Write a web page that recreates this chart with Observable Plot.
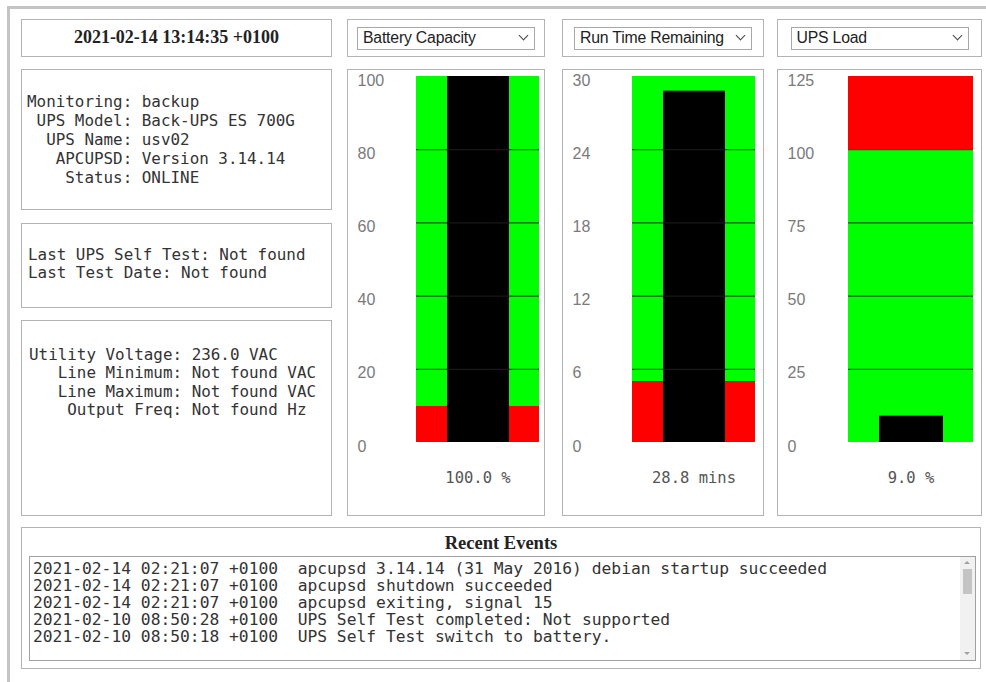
<!DOCTYPE html>
<html>
<head>
<meta charset="utf-8">
<script src="https://cdn.jsdelivr.net/npm/d3@7"></script>
<script src="https://cdn.jsdelivr.net/npm/@observablehq/plot@0.6"></script>
<style>
  html, body { margin: 0; padding: 0; background: #fff; width: 986px; height: 682px; overflow: hidden; }
  .abs { position: absolute; box-sizing: border-box; }
  .frame { left: 7px; top: 6px; width: 1000px; height: 700px; border-left: 3px solid #c4c4c4; border-top: 3px solid #c4c4c4; }
  .box { border: 1px solid #b3b3b3; background: #fff; }
  .date { font-family: "Liberation Serif", serif; font-weight: bold; font-size: 18px; color: #222; text-align: center; line-height: 35px; }
  .mono { font-family: "DejaVu Sans Mono", monospace; font-size: 15.9px; color: #333; white-space: pre; }
  .sel { border: 1px solid #a8a8a8; font-family: "Liberation Sans", Arial, sans-serif; font-size: 15.8px; color: #222; line-height: 20px; padding-left: 5px; letter-spacing: -0.2px; }
  .chev { position: absolute; right: 7px; top: 4px; width: 6px; height: 6px; border-right: 1.6px solid #444; border-bottom: 1.6px solid #444; transform: rotate(45deg); }
  .title { font-family: "Liberation Serif", serif; font-weight: bold; font-size: 18.5px; color: #222; text-align: center; }
</style>
</head>
<body>
<script>
// ---- data ----
const timestamp = "2021-02-14 13:14:35 +0100";
const statusLabels = ["Monitoring", "UPS Model", "UPS Name", "APCUPSD", "Status"];
const statusValues = ["backup", "Back-UPS ES 700G", "usv02", "Version 3.14.14", "ONLINE"];
const testLabels = ["Last UPS Self Test", "Last Test Date"];
const testValues = ["Not found", "Not found"];
const powerLabels = ["Utility Voltage", "Line Minimum", "Line Maximum", "Output Freq"];
const powerValues = ["236.0 VAC", "Not found VAC", "Not found VAC", "Not found Hz"];

const gaugeTitles = ["Battery Capacity", "Run Time Remaining", "UPS Load"];
const gaugeValues = [100.0, 28.8, 9.0];
const gaugeUnits = ["%", "mins", "%"];
const gaugeMax = [100, 30, 125];
const gaugeTicks = [[0, 20, 40, 60, 80, 100], [0, 6, 12, 18, 24, 30], [0, 25, 50, 75, 100, 125]];
const redZones = [[0, 10], [0, 5], [100, 125]];
const greenZones = [[10, 100], [5, 30], [0, 100]];

const eventTimes = ["2021-02-14 02:21:07 +0100", "2021-02-14 02:21:07 +0100", "2021-02-14 02:21:07 +0100", "2021-02-10 08:50:28 +0100", "2021-02-10 08:50:18 +0100"];
const eventMessages = ["apcupsd 3.14.14 (31 May 2016) debian startup succeeded", "apcupsd shutdown succeeded", "apcupsd exiting, signal 15", "UPS Self Test completed: Not supported", "UPS Self Test switch to battery."];

// ---- layout helpers ----
function el(cls, css, html) {
  const d = document.createElement("div");
  d.className = "abs " + cls;
  Object.assign(d.style, css);
  if (html !== undefined) d.textContent = html;
  document.body.appendChild(d);
  return d;
}
function padLeft(s, n) { return " ".repeat(Math.max(0, n - s.length)) + s; }

el("frame", {});

// date box
el("box date", {left: "21px", top: "19px", width: "311px", height: "38px"}, timestamp);

// info boxes
const w1 = Math.max(...statusLabels.map(s => s.length));
el("box", {left: "21px", top: "69px", width: "311px", height: "141px"});
el("mono", {left: "27px", top: "92px", lineHeight: "19px"},
  statusLabels.map((l, i) => padLeft(l, w1) + ": " + statusValues[i]).join("\n"));

el("box", {left: "21px", top: "223px", width: "311px", height: "85px"});
el("mono", {left: "28px", top: "246px", lineHeight: "18px"},
  testLabels.map((l, i) => l + ": " + testValues[i]).join("\n"));

const w3 = Math.max(...powerLabels.map(s => s.length));
el("box", {left: "21px", top: "320px", width: "311px", height: "196px"});
el("mono", {left: "29px", top: "346px", lineHeight: "18.3px"},
  powerLabels.map((l, i) => padLeft(l, w3) + ": " + powerValues[i]).join("\n"));

// gauges
const gaugeLefts = [347, 562, 777];
const gaugeWidths = [198, 202, 205];
gaugeTitles.forEach((title, i) => {
  const L = gaugeLefts[i], W = gaugeWidths[i];
  el("box", {left: L + "px", top: "19px", width: W + "px", height: "38px"});
  const selW = 178;
  const s = el("sel", {left: (L + (W - selW) / 2) + "px", top: "27px", width: selW + "px", height: "23px"}, title);
  const c = document.createElement("div"); c.className = "chev"; s.appendChild(c);

  const panel = el("box", {left: L + "px", top: "69px", width: W + "px", height: "447px"});
  const label = gaugeValues[i].toFixed(1) + " " + gaugeUnits[i];
  const max = gaugeMax[i];
  const marginLeft = 68 + i;
  const chart = Plot.plot({
    width: W - 2,
    height: 445,
    marginTop: 6,
    marginBottom: 73,
    marginLeft,
    marginRight: i === 0 ? 5 : 8,
    style: {fontFamily: "Liberation Sans, Arial, sans-serif", fontSize: "16px", background: "transparent", overflow: "visible"},
    x: {type: "band", domain: [label], padding: 0, label: null},
    y: {domain: [0, max], label: null},
    marks: [
      Plot.barY([redZones[i]], {x: () => label, y1: d => d[0], y2: d => d[1], fill: "#ff0000"}),
      Plot.barY([greenZones[i]], {x: () => label, y1: d => d[0], y2: d => d[1], fill: "#00ff00"}),
      Plot.barY([gaugeValues[i]], {x: () => label, y1: 0, y2: d => d, fill: "#000000", insetLeft: 31, insetRight: 30}),
      Plot.ruleY(gaugeTicks[i].filter(t => t > 0 && t < max), {stroke: "#222", strokeOpacity: 0.75, strokeWidth: 1.2}),
      Plot.axisY(gaugeTicks[i], {tickSize: 0, tickPadding: 0, textAnchor: "start", dx: -(marginLeft - 9), dy: 4, fill: "#7a7a7a", fontSize: 16, label: null}),
      Plot.axisX({tickSize: 0, tickPadding: 29, fontFamily: "DejaVu Sans Mono, monospace", fontSize: 15.5, fill: "#555", label: null})
    ]
  });
  chart.style.position = "absolute";
  chart.style.left = "0px";
  chart.style.top = "0px";
  panel.appendChild(chart);
});

// recent events
el("box", {left: "21px", top: "527px", width: "960px", height: "142px"});
el("title", {left: "21px", top: "533px", width: "960px"}, "Recent Events");
el("box", {left: "29px", top: "556px", width: "947px", height: "105px", border: "1px solid #a0a0a0"});
el("mono", {left: "33px", top: "560px", lineHeight: "17px", fontSize: "16.3px"},
  eventTimes.map((t, i) => t + "  " + eventMessages[i]).join("\n"));
// scrollbar (decoration)
el("", {left: "960px", top: "557px", width: "15px", height: "103px", background: "#f1f1f1"});
el("", {left: "963px", top: "569px", width: "9px", height: "25px", background: "#c4c4c4"});
el("", {left: "964px", top: "561px", width: "0", height: "0", borderLeft: "3px solid transparent", borderRight: "3px solid transparent", borderBottom: "3px solid #a3a3a3"});
el("", {left: "964px", top: "652px", width: "0", height: "0", borderLeft: "3px solid transparent", borderRight: "3px solid transparent", borderTop: "3px solid #a3a3a3"});
</script>
</body>
</html>
